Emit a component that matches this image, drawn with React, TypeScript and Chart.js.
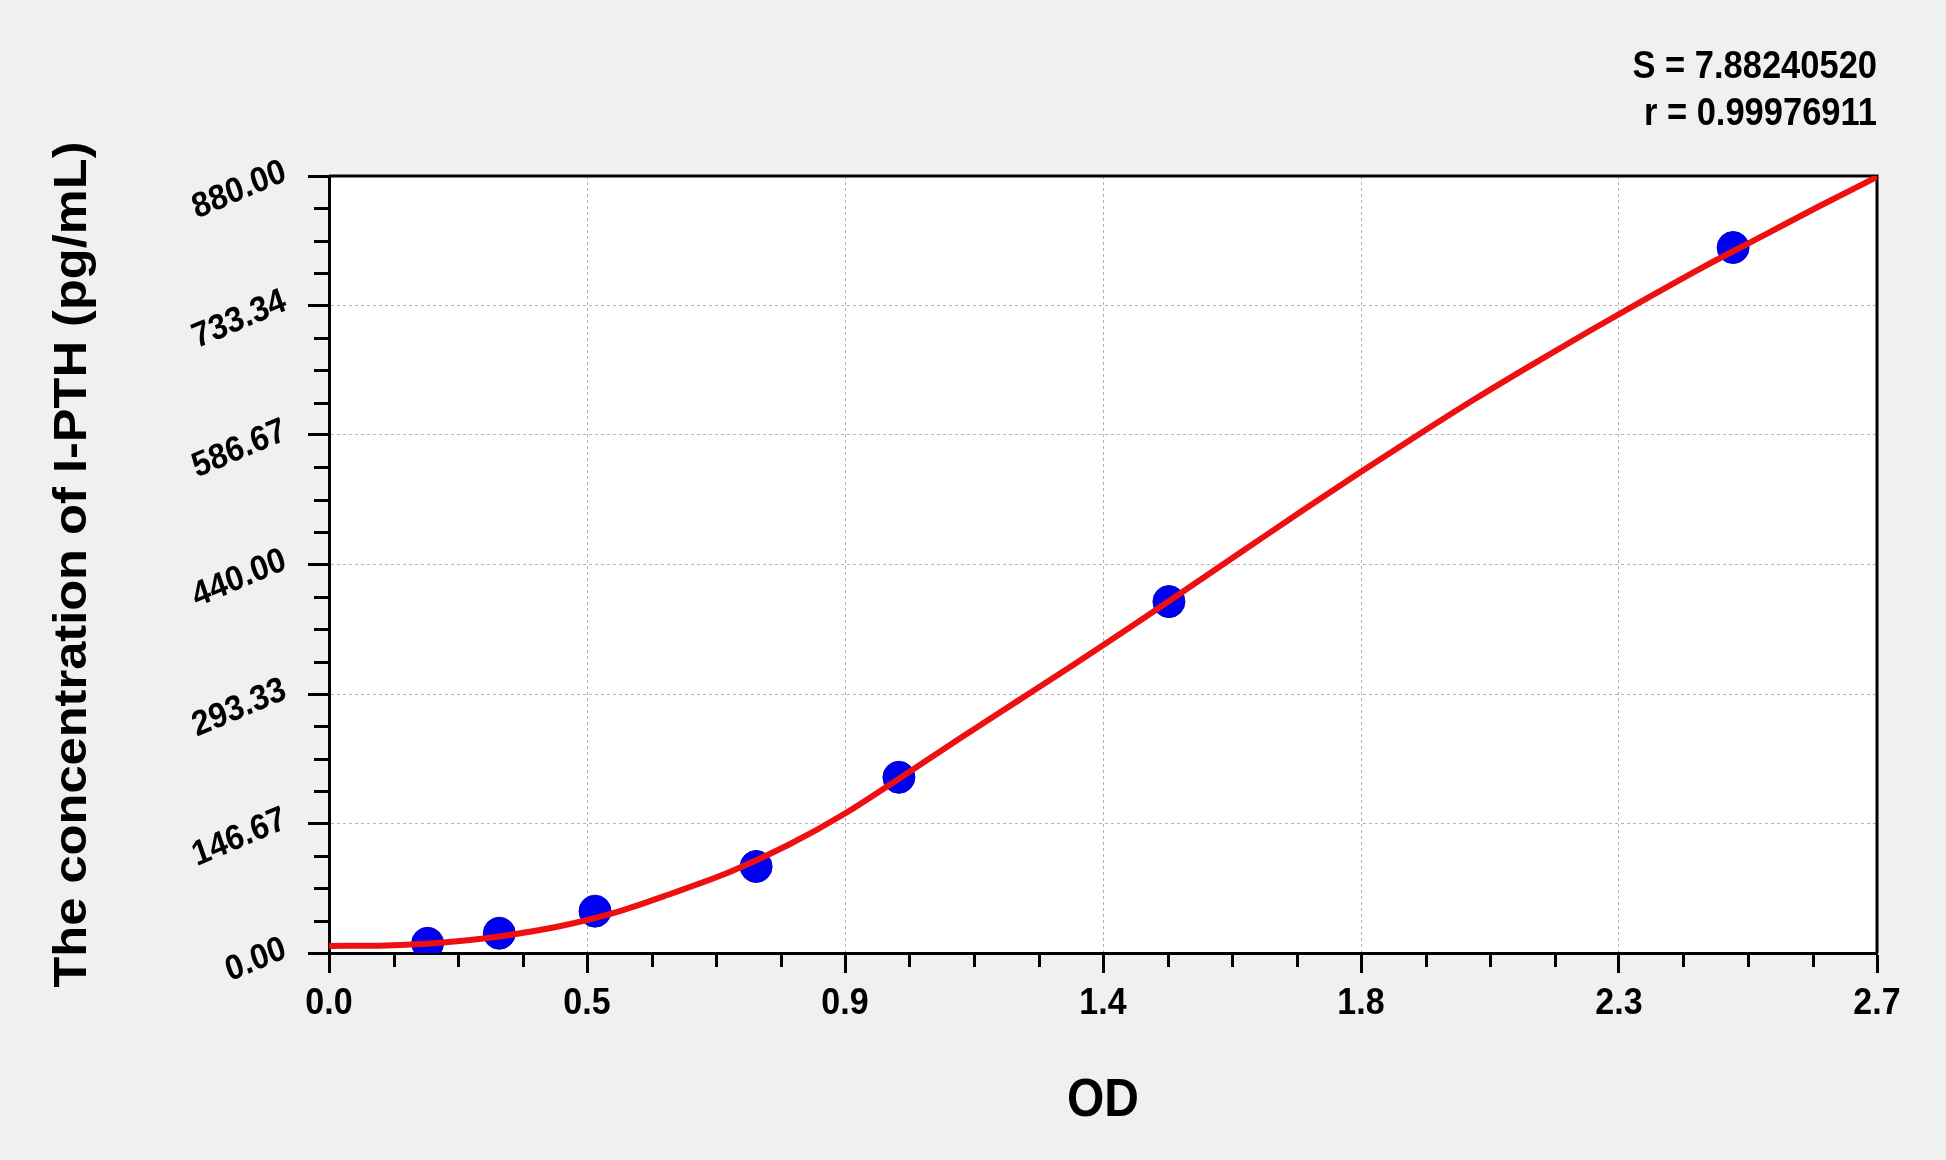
import React, { useEffect, useRef } from 'react';
import { Chart, registerables } from 'chart.js';

Chart.register(...registerables);

// ---- data ----
const POINT_OD = [0.172, 0.297, 0.464, 0.745, 0.994, 1.465, 2.449];
const POINT_CONC = [11, 22.4, 47.4, 98, 199, 398, 799];

const CURVE_OD = [0, 0.1, 0.17, 0.25, 0.3, 0.4, 0.5, 0.6, 0.7, 0.8, 0.9, 1.0, 1.1, 1.2, 1.3, 1.4, 1.5, 1.6, 1.7, 1.8, 1.9, 2.0, 2.1, 2.2, 2.3, 2.4, 2.5, 2.6, 2.7];
const CURVE_CONC = [8, 8.5, 10.5, 15, 19, 30, 46, 68, 92, 122, 158, 200, 243, 285, 327, 370, 414, 458, 502, 545, 587, 628, 667, 705, 742, 778, 812, 846, 879];

const X_TICK_VALUES = [0, 0.45, 0.9, 1.35, 1.8, 2.25, 2.7];
const X_TICK_LABELS = ['0.0', '0.5', '0.9', '1.4', '1.8', '2.3', '2.7'];
const Y_TICK_VALUES = [0, 146.667, 293.333, 440, 586.667, 733.333, 880];
const Y_TICK_LABELS = ['0.00', '146.67', '293.33', '440.00', '586.67', '733.34', '880.00'];

const STATS_LINES = ['S = 7.88240520', 'r = 0.99976911'];
const X_TITLE = 'OD';
const Y_TITLE = 'The concentration of I-PTH (pg/mL)';

const FONT = '"Liberation Sans", Arial, Helvetica, sans-serif';
const STRETCH = 1.1; // text in the reference is drawn slightly taller than wide
const W = 1946;
const H = 1160;

function drawText(
  ctx: CanvasRenderingContext2D,
  text: string,
  x: number,
  y: number,
  size: number,
  align: CanvasTextAlign,
  baseline: CanvasTextBaseline,
  angleDeg = 0,
) {
  ctx.save();
  ctx.translate(x, y);
  ctx.scale(1, STRETCH);
  if (angleDeg) ctx.rotate((angleDeg * Math.PI) / 180);
  ctx.font = `bold ${size}px ${FONT}`;
  ctx.fillStyle = '#000';
  ctx.textAlign = align;
  ctx.textBaseline = baseline;
  ctx.fillText(text, 0, 0);
  ctx.restore();
}

const decorPlugin = {
  id: 'decor',
  beforeDraw(chart: any) {
    const { ctx, chartArea: a } = chart;
    ctx.save();
    ctx.fillStyle = '#f0f0f0';
    ctx.fillRect(0, 0, chart.width, chart.height);
    ctx.fillStyle = '#ffffff';
    ctx.fillRect(a.left, a.top, a.right - a.left, a.bottom - a.top);
    ctx.restore();
  },
  beforeDatasetsDraw(chart: any) {
    const { ctx, chartArea: a, scales } = chart;
    const xs = scales.x;
    const ys = scales.y;
    ctx.save();
    ctx.strokeStyle = '#000';
    ctx.lineWidth = 3;
    ctx.beginPath();
    ctx.moveTo(a.left, a.top);
    ctx.lineTo(a.right, a.top);
    ctx.lineTo(a.right, a.bottom);
    ctx.stroke();

    // minor ticks
    ctx.beginPath();
    for (let i = 0; i < X_TICK_VALUES.length - 1; i++) {
      const v0 = X_TICK_VALUES[i];
      const v1 = X_TICK_VALUES[i + 1];
      for (let k = 1; k < 4; k++) {
        const px = Math.round(xs.getPixelForValue(v0 + ((v1 - v0) * k) / 4)) + 0.5;
        ctx.moveTo(px, a.bottom);
        ctx.lineTo(px, a.bottom + 14);
      }
    }
    for (let i = 0; i < Y_TICK_VALUES.length - 1; i++) {
      const v0 = Y_TICK_VALUES[i];
      const v1 = Y_TICK_VALUES[i + 1];
      for (let k = 1; k < 4; k++) {
        const py = Math.round(ys.getPixelForValue(v0 + ((v1 - v0) * k) / 4)) + 0.5;
        ctx.moveTo(a.left - 15, py);
        ctx.lineTo(a.left, py);
      }
    }
    ctx.stroke();
    ctx.restore();

    // x tick labels
    X_TICK_VALUES.forEach((v, i) => {
      drawText(ctx, X_TICK_LABELS[i], xs.getPixelForValue(v), a.bottom + 51, 34, 'center', 'middle');
    });

    // rotated y tick labels
    Y_TICK_VALUES.forEach((v, i) => {
      drawText(ctx, Y_TICK_LABELS[i], a.left - 44, ys.getPixelForValue(v) - 5, 32, 'right', 'middle', -21);
    });

    // axis titles
    drawText(ctx, X_TITLE, (a.left + a.right) / 2, a.bottom + 148, 48, 'center', 'middle');
    drawText(ctx, Y_TITLE, 73, (a.top + a.bottom) / 2, 46, 'center', 'middle', -90);

    // statistics text
    drawText(ctx, STATS_LINES[0], a.right, a.top - 98, 34.5, 'right', 'alphabetic');
    drawText(ctx, STATS_LINES[1], a.right, a.top - 51, 34.5, 'right', 'alphabetic');
  },
};

export default function App() {
  const canvasRef = useRef<HTMLCanvasElement | null>(null);

  useEffect(() => {
    const canvas = canvasRef.current;
    if (!canvas) return;
    const chart = new Chart(canvas, {
      type: 'scatter',
      data: {
        datasets: [
          {
            label: 'fit',
            data: CURVE_OD.map((x, i) => ({ x, y: CURVE_CONC[i] })),
            showLine: true,
            borderColor: '#ee1010',
            backgroundColor: '#ee1010',
            borderWidth: 6,
            pointRadius: 0,
            cubicInterpolationMode: 'monotone',
            order: 0,
          } as any,
          {
            label: 'standards',
            data: POINT_OD.map((x, i) => ({ x, y: POINT_CONC[i] })),
            showLine: false,
            backgroundColor: '#0000f0',
            borderColor: '#0000c8',
            borderWidth: 1,
            pointRadius: 16,
            order: 1,
          } as any,
        ],
      },
      options: {
        responsive: false,
        animation: false,
        events: [],
        layout: { padding: { top: 176, right: 69, left: 0, bottom: 0 } },
        plugins: {
          legend: { display: false },
          tooltip: { enabled: false },
          title: { display: false },
        },
        scales: {
          x: {
            type: 'linear',
            min: 0,
            max: 2.7,
            afterBuildTicks: (scale: any) => {
              scale.ticks = X_TICK_VALUES.map((v) => ({ value: v }));
            },
            afterFit: (scale: any) => {
              scale.height = 207;
            },
            ticks: { display: false },
            grid: {
              color: '#b4b4b4',
              lineWidth: 1,
              drawTicks: true,
              tickLength: 20,
              tickColor: '#000',
              tickWidth: 3,
              tickBorderDash: [],
            },
            border: { display: true, color: '#000', width: 3, dash: [3, 3] },
            title: { display: false, text: X_TITLE },
          },
          y: {
            type: 'linear',
            min: 0,
            max: 880,
            afterBuildTicks: (scale: any) => {
              scale.ticks = Y_TICK_VALUES.map((v) => ({ value: v }));
            },
            afterFit: (scale: any) => {
              scale.width = 329;
            },
            ticks: { display: false },
            grid: {
              color: '#b4b4b4',
              lineWidth: 1,
              drawTicks: true,
              tickLength: 21,
              tickColor: '#000',
              tickWidth: 3,
              tickBorderDash: [],
            },
            border: { display: true, color: '#000', width: 3, dash: [3, 3] },
            title: { display: false, text: Y_TITLE },
          },
        },
      } as any,
      plugins: [decorPlugin],
    });
    return () => chart.destroy();
  }, []);

  return (
    <div style={{ position: 'absolute', left: 0, top: 0, width: W, height: H, background: '#f0f0f0' }}>
      <canvas ref={canvasRef} width={W} height={H} style={{ display: 'block', width: W, height: H }} />
    </div>
  );
}
